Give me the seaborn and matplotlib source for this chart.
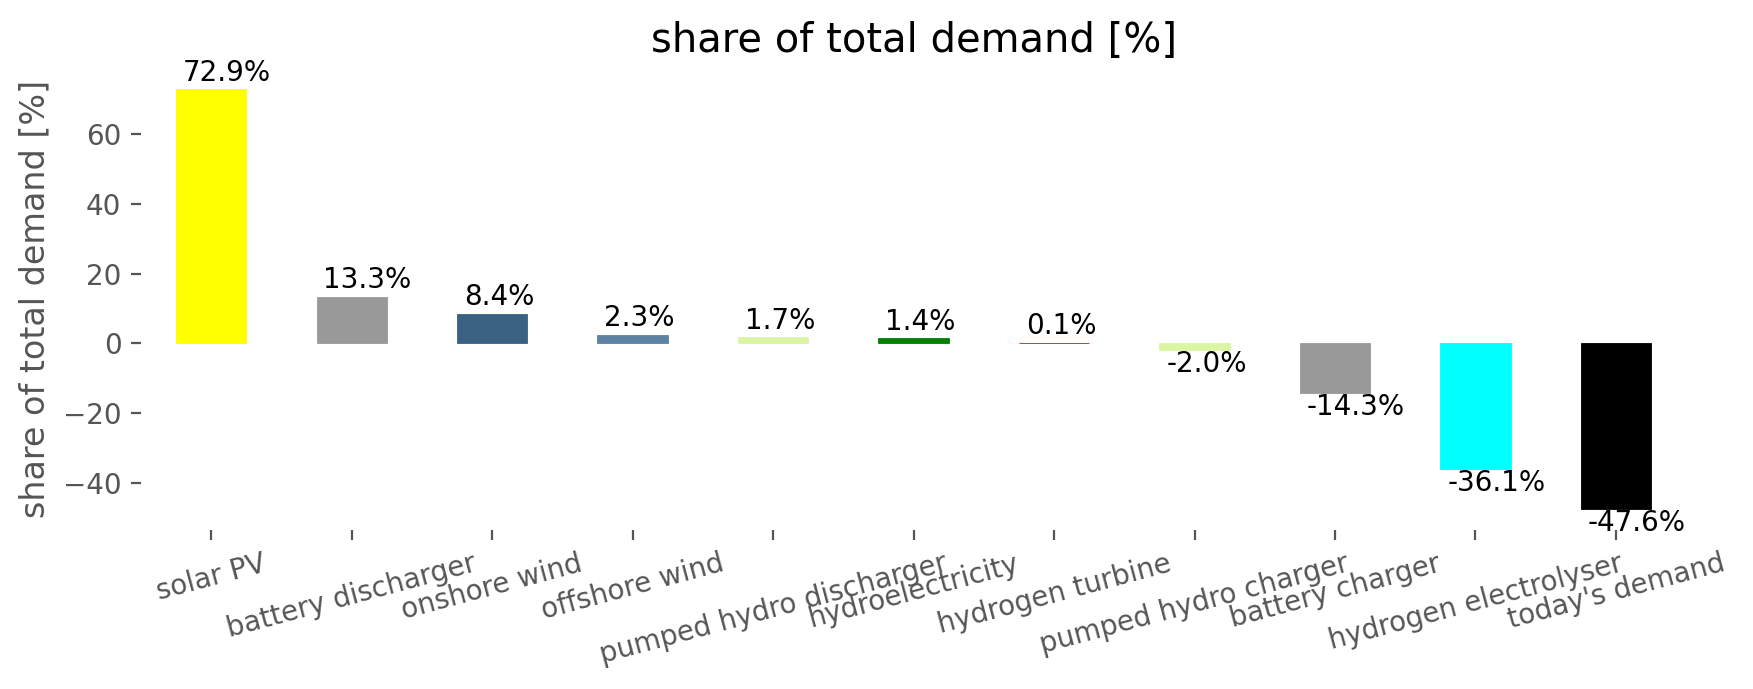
import matplotlib
matplotlib.use("Agg")
import matplotlib.pyplot as plt
import seaborn as sns

# values
technologies = ["solar PV", "battery discharger", "onshore wind", "offshore wind",
                "pumped hydro discharger", "hydroelectricity", "hydrogen turbine",
                "pumped hydro charger", "battery charger", "hydrogen electrolyser",
                "today's demand"]
shares = [72.9, 13.3, 8.4, 2.3, 1.7, 1.4, 0.1, -2.0, -14.3, -36.1, -47.6]
bar_colors = ["#ffff00", "#999999", "#3b6182", "#5c83a4", "#dcf5a5", "#008000",
              "#ff0000", "#dcf5a5", "#999999", "#00ffff", "#000000"]

sns.set_style("white", {
    "axes.spines.left": False, "axes.spines.bottom": False,
    "axes.spines.right": False, "axes.spines.top": False,
    "xtick.bottom": True, "ytick.left": True,
    "xtick.color": "#555555", "ytick.color": "#555555",
    "axes.labelcolor": "#555555",
})
plt.rcParams["font.family"] = ["DejaVu Sans"]

fig = plt.figure(figsize=(8.765, 3.445), dpi=200)
ax = fig.add_axes([0.0804, 0.2308, 0.8815, 0.6698])

sns.barplot(x=technologies, y=shares, hue=technologies, palette=bar_colors,
            width=0.5, saturation=1, legend=False, linewidth=0, ax=ax)

# keep thin bars visible like the original
for p, c in zip(ax.patches, bar_colors):
    p.set_edgecolor(c)
    p.set_linewidth(0.3)

for p, v in zip(ax.patches, shares):
    if v >= 0:
        ax.annotate(f"{v:.1f}%", (p.get_x(), v), xytext=(2.5, 1),
                    textcoords="offset points", ha="left", va="bottom",
                    fontsize=10, color="black")
    else:
        ax.annotate(f"{v:.1f}%", (p.get_x(), v), xytext=(2.5, 0),
                    textcoords="offset points", ha="left", va="top",
                    fontsize=10, color="black")

ax.set_title("share of total demand [%]", fontsize=14.4, color="black")
ax.set_ylabel("share of total demand [%]", fontsize=12)
ax.set_xlabel("")
ax.tick_params(axis="both", labelsize=10, length=3.5, width=0.8)
plt.setp(ax.get_xticklabels(), rotation=15, ha="center")

fig.savefig("out.png", dpi=200)
